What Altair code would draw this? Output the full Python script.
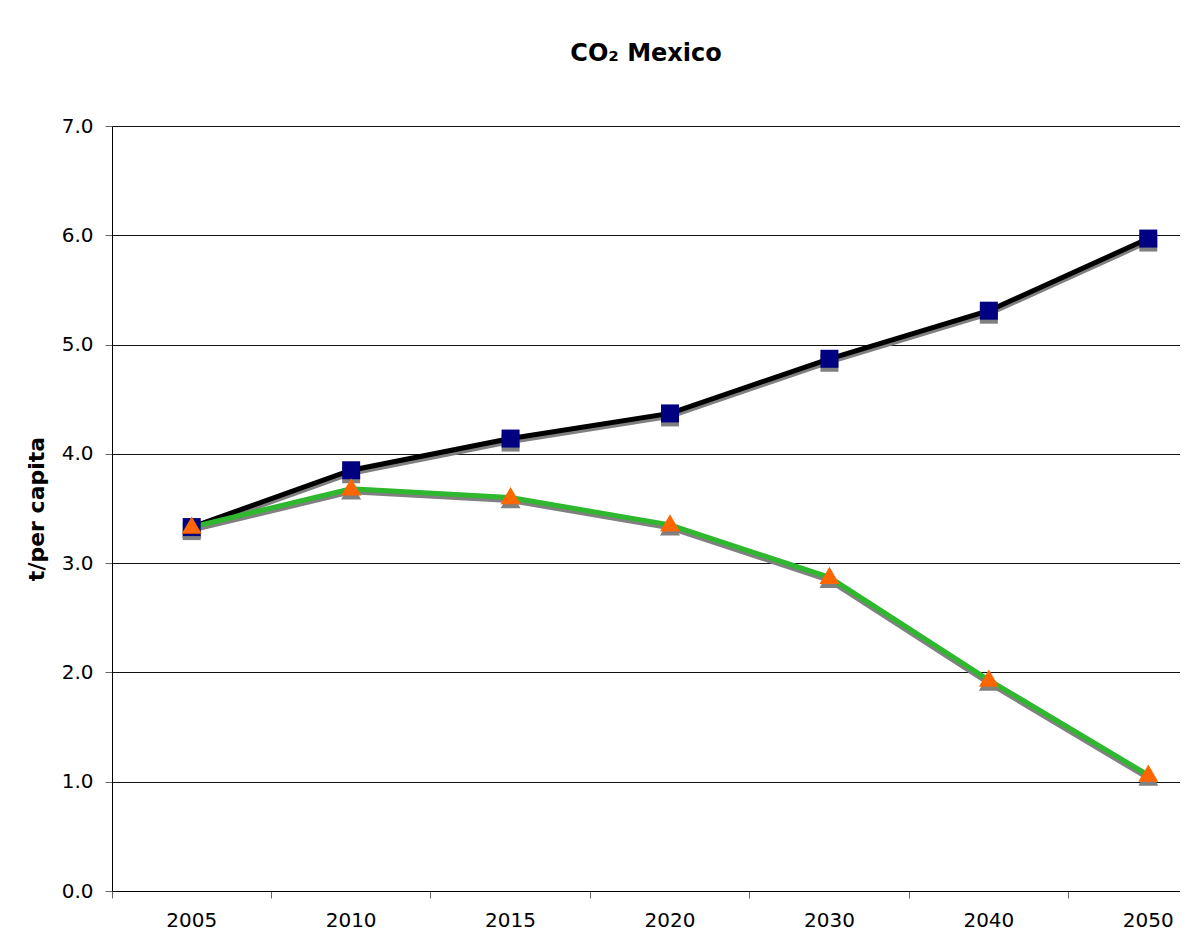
import altair as alt
import pandas as pd

years = ["2005", "2010", "2015", "2020", "2030", "2040", "2050"]
baseline = [3.33, 3.85, 4.14, 4.37, 4.87, 5.31, 5.97]
scenario = [3.33, 3.68, 3.60, 3.35, 2.87, 1.93, 1.06]

df = pd.DataFrame({"year": years, "baseline": baseline, "scenario": scenario})

FONT = "DejaVu Sans"

x_enc = alt.X("year:N", sort=years, title=None,
              scale=alt.Scale(type="band", range=[0, 1116], paddingInner=0, paddingOuter=0),
              axis=alt.Axis(labelAngle=0, labelFontSize=20, labelFont=FONT, labelColor="#000",
                            domainColor="#000", tickColor="#666", tickSize=7, labelPadding=12,
                            grid=False, bandPosition=0, labelBound=False, labelOverlap=False))

y_axis = alt.Axis(values=[0, 1, 2, 3, 4, 5, 6, 7], format=".1f", labelFontSize=20,
                  labelFont=FONT, labelColor="#000", domainColor="#000", tickColor="#666",
                  tickSize=7, labelPadding=12, grid=True, gridColor="#111", gridWidth=1,
                  title="t/per capita", titleFont=FONT, titleFontSize=22,
                  titleFontWeight="bold", titleColor="#000", titlePadding=13)

def y_enc(field):
    return alt.Y(f"{field}:Q", scale=alt.Scale(domain=[0, 7], nice=False), axis=y_axis,
                 title="t/per capita")

base = alt.Chart(df)

# shadows
sh_line1 = base.mark_line(color="#808080", strokeWidth=5, yOffset=3).encode(x=x_enc, y=y_enc("baseline"))
sh_line2 = base.mark_line(color="#808080", strokeWidth=5, yOffset=3).encode(x=x_enc, y=y_enc("scenario"))
sh_pt1 = base.mark_point(shape="square", filled=True, size=324, color="#808080", opacity=1,
                         yOffset=4).encode(x=x_enc, y=y_enc("baseline"))
sh_pt2 = base.mark_point(shape="triangle-up", filled=True, size=400, color="#808080", opacity=1,
                         yOffset=2).encode(x=x_enc, y=y_enc("scenario"))

line1 = base.mark_line(color="#000000", strokeWidth=5).encode(x=x_enc, y=y_enc("baseline"))
line2 = base.mark_line(color="#2DB82D", strokeWidth=5).encode(x=x_enc, y=y_enc("scenario"))
pt1 = base.mark_point(shape="square", filled=True, size=324, color="#000080", opacity=1).encode(
    x=x_enc, y=y_enc("baseline"))
pt2 = base.mark_point(shape="triangle-up", filled=True, size=400, color="#FF6600", opacity=1,
                      yOffset=-2).encode(x=x_enc, y=y_enc("scenario"))

chart = alt.layer(sh_line1, sh_line2, sh_pt1, sh_pt2, line1, line2, pt1, pt2).properties(
    width=1068, height=765,
    title=alt.TitleParams("CO₂ Mexico", font=FONT, fontSize=24, fontWeight="bold", color="#000",
                          anchor="middle", offset=50),
    autosize=alt.AutoSizeParams(type="none"),
    padding={"left": 104, "top": 118, "right": 0, "bottom": 45},
    background="#FFFFFF",
).configure_view(stroke=None)

chart.save("out.html", embed_options={"renderer": "svg", "actions": False})
